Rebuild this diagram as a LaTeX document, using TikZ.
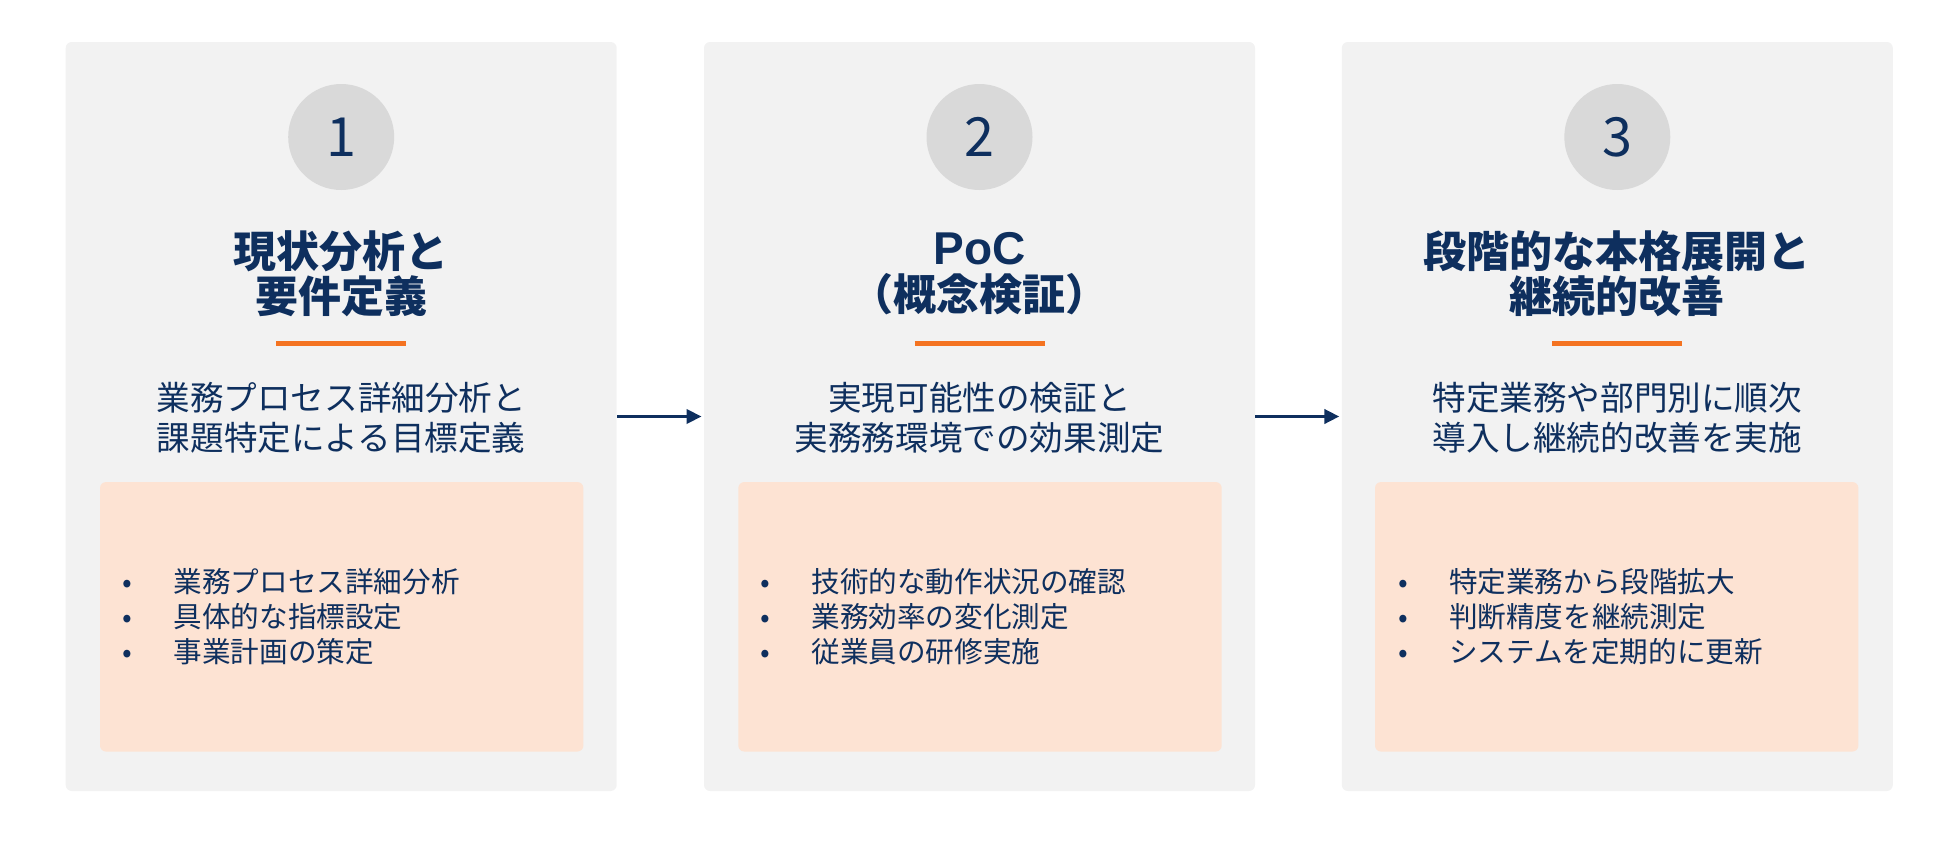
\documentclass[tikz,border=0pt]{standalone}
\usepackage{fontspec}
\setmainfont{Noto Sans CJK JP}
\newfontfamily\arialfont{Liberation Sans}
\usetikzlibrary{arrows.meta,positioning}
\definecolor{navy}{HTML}{0E2F5E}
\definecolor{panelgray}{HTML}{F2F2F2}
\definecolor{circlegray}{HTML}{D9D9D9}
\definecolor{accent}{HTML}{F47321}
\definecolor{peach}{HTML}{FDE3D3}
\tikzset{
  panel/.style={fill=panelgray,rounded corners=3pt,minimum width=275.5pt,minimum height=374.5pt,inner sep=0pt},
  numcircle/.style={circle,fill=circlegray,minimum size=53pt,inner sep=0pt,text=navy,font=\fontsize{27}{27}\selectfont},
  title/.style={align=center,text=navy,font=\bfseries\fontsize{21.5}{22.8}\selectfont,inner sep=0pt},
  subtitle/.style={align=center,text=navy,font=\fontsize{16.8}{19.75}\selectfont,inner sep=0pt},
  bar/.style={draw=accent,line width=2.2pt},
  detailbox/.style={fill=peach,rounded corners=3pt,minimum width=241.7pt,minimum height=134.75pt,inner sep=0pt},
  items/.style={align=left,text=navy,font=\fontsize{14.3}{17.5}\selectfont,inner sep=0pt,anchor=west},
  flow/.style={draw=navy,line width=1.8pt,-{Triangle[length=7.5pt,width=7pt]},shorten >=1pt}
}
\newcommand{\itm}[1]{\makebox[25.5pt][l]{•}#1}
\begin{document}
\begin{tikzpicture}[x=0.5pt,y=-0.5pt]
\useasboundingbox (0,0) rectangle (1938,846);
% panels
\node[panel] (p1) at (341.2,416.5) {};
\node[panel] (p2) at (979.5,416.5) {};
\node[panel] (p3) at (1617.3,416.5) {};
% step 1
\node[numcircle] (n1) at (341.2,137) {1};
\node[title] (t1) at (341.2,273.8) {現状分析と\\要件定義};
\draw[bar] (276.2,343.6) -- (406.2,343.6);
\node[subtitle] (s1) at (341.2,417.8) {業務プロセス詳細分析と\\課題特定による目標定義};
\node[detailbox] (d1) at (341.7,616.8) {};
\node[items] (l1) at (122.4,616.8) {\itm{業務プロセス詳細分析}\\\itm{具体的な指標設定}\\\itm{事業計画の策定}};
% step 2
\node[numcircle] (n2) at (979.5,137) {2};
\node[title] (t2) at (979.5,273.8) {{\arialfont\fontsize{23}{22.8}\selectfont PoC}\\（概念検証）};
\draw[bar] (914.5,343.6) -- (1044.5,343.6);
\node[subtitle] (s2) at (979.5,417.8) {実現可能性の検証と\\実務務環境での効果測定};
\node[detailbox] (d2) at (980,616.8) {};
\node[items] (l2) at (760,616.8) {\itm{技術的な動作状況の確認}\\\itm{業務効率の変化測定}\\\itm{従業員の研修実施}};
% step 3
\node[numcircle] (n3) at (1617.3,137) {3};
\node[title] (t3) at (1617.3,273.8) {段階的な本格展開と\\継続的改善};
\draw[bar] (1552.3,343.6) -- (1682.3,343.6);
\node[subtitle] (s3) at (1617.3,417.8) {特定業務や部門別に順次\\導入し継続的改善を実施};
\node[detailbox] (d3) at (1616.7,616.8) {};
\node[items] (l3) at (1397.7,616.8) {\itm{特定業務から段階拡大}\\\itm{判断精度を継続測定}\\\itm{システムを定期的に更新}};
% arrows
\draw[flow] (p1.east) -- (p2.west);
\draw[flow] (p2.east) -- (p3.west);
\end{tikzpicture}
\end{document}
